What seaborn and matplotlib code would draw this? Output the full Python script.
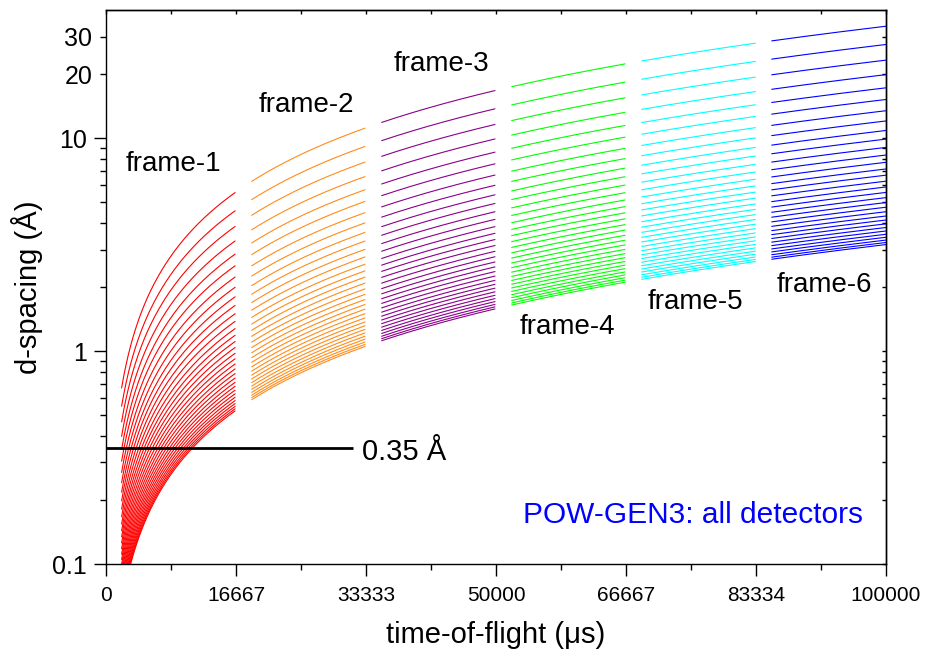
import numpy as np
import pandas as pd
import matplotlib
matplotlib.use("Agg")
import matplotlib.pyplot as plt
from matplotlib.ticker import FixedLocator, FixedFormatter
import seaborn as sns

# ---- data ----
# detector-group conversion constants (d = tof / DIFC), top curve first
difc = [2980, 3630, 4300, 5030, 5800, 6580, 7430, 8300, 9200, 10100,
        11050, 12000, 12980, 13950, 14920, 15920, 16950, 17980, 19020, 20060,
        21100, 22150, 23200, 24230, 25250, 26270, 27280, 28270, 29200, 30100,
        30900, 31600]
frame_names = ["frame-1", "frame-2", "frame-3", "frame-4", "frame-5", "frame-6"]
frame_start = [2000, 18680, 35340, 52010, 68680, 85350]      # µs
frame_end = [16550, 33200, 49870, 66540, 83250, 100000]      # µs
frame_colors = ["#FF0000", "#FF8C1A", "#8B008B", "#00FF00", "#00FFFF", "#0000FF"]
label_x = [2560, 19615, 36920, 52990, 69400, 85990]
label_y = [6.98, 13.3, 20.7, 1.207, 1.569, 1.89]

xtick_pos = [0, 16667, 33333, 50000, 66667, 83334, 100000]
xtick_labels = ["0", "16667", "33333", "50000", "66667", "83334", "100000"]
xminor_pos = [8333, 25000, 41667, 58333, 75000, 91667]
ytick_pos = [0.1, 1, 10]
ytick_labels = ["0.1", "1", "10"]
yminor_pos = [0.2, 0.3, 0.4, 0.5, 0.6, 0.7, 0.8, 0.9,
              2, 3, 4, 5, 6, 7, 8, 9, 20, 30]
yminor_labels = ["", "", "", "", "", "", "", "",
                 "", "", "", "", "", "", "", "", "20", "30"]

cut_d = 0.35
cut_x = [0, 31700]
cut_label = "0.35 Å"
cut_label_pos = (32820, 0.307)
title_text = "POW-GEN3: all detectors"
title_pos = (53460, 0.155)

# ---- long-form table of curves ----
parts = []
for name, t0, t1 in zip(frame_names, frame_start, frame_end):
    t = np.linspace(t0, t1, 150)
    for j, c in enumerate(difc):
        parts.append(pd.DataFrame({"tof": t, "d": t / c, "frame": name, "det": j}))
df = pd.concat(parts, ignore_index=True)

sns.set_theme(style="ticks")
plt.rcParams["font.family"] = ["Liberation Sans", "DejaVu Sans"]
plt.rcParams["axes.edgecolor"] = "black"
plt.rcParams["axes.linewidth"] = 1.0

fig, ax = plt.subplots(figsize=(9.25, 6.52), dpi=100)
fig.subplots_adjust(left=106 / 925, right=886 / 925,
                    bottom=(652 - 564) / 652, top=(652 - 10) / 652)
ax.set_yscale("log")

sns.lineplot(data=df, x="tof", y="d", hue="frame", hue_order=frame_names,
             units="det", estimator=None, sort=False,
             palette=frame_colors, legend=False, lw=0.8, ax=ax)

ax.plot(cut_x, [cut_d, cut_d], color="black", lw=2.0, solid_capstyle="butt")

ax.set_xlim(0, 100000)
ax.set_ylim(0.1, 40)

ax.xaxis.set_major_locator(FixedLocator(xtick_pos))
ax.xaxis.set_major_formatter(FixedFormatter(xtick_labels))
ax.xaxis.set_minor_locator(FixedLocator(xminor_pos))
ax.yaxis.set_major_locator(FixedLocator(ytick_pos))
ax.yaxis.set_major_formatter(FixedFormatter(ytick_labels))
ax.yaxis.set_minor_locator(FixedLocator(yminor_pos))
ax.yaxis.set_minor_formatter(FixedFormatter(yminor_labels))

ax.tick_params(axis="both", which="major", direction="out", length=8.5,
               width=1.0, color="black", labelcolor="black")
ax.tick_params(axis="both", which="minor", direction="out", length=4.3,
               width=1.0, color="black", labelcolor="black")
ax.tick_params(axis="x", which="major", labelsize=15, pad=7)
ax.tick_params(axis="y", which="both", labelsize=18, pad=5.5)

# small inward ticks on top and right
sec_x = ax.secondary_xaxis("top")
sec_x.xaxis.set_major_locator(FixedLocator(xtick_pos))
sec_x.xaxis.set_minor_locator(FixedLocator(xminor_pos))
sec_x.tick_params(which="both", direction="in", length=3, width=1.0,
                  labeltop=False, color="black")
sec_y = ax.secondary_yaxis("right")
sec_y.yaxis.set_major_locator(FixedLocator(ytick_pos))
sec_y.yaxis.set_minor_locator(FixedLocator(yminor_pos))
sec_y.tick_params(which="both", direction="in", length=3, width=1.0,
                  labelright=False, color="black")
for s in ax.spines.values():
    s.set_color("black")
    s.set_linewidth(1.0)

ax.set_xlabel("time-of-flight (μs)", fontsize=21, labelpad=12, color="black")
ax.set_ylabel("d-spacing (Å)", fontsize=21, labelpad=6, color="black")

for name, x, y in zip(frame_names, label_x, label_y):
    ax.text(x, y, name, fontsize=20, ha="left", va="baseline", color="black")
ax.text(cut_label_pos[0], cut_label_pos[1], cut_label, fontsize=21,
        ha="left", va="baseline", color="black")
ax.text(title_pos[0], title_pos[1], title_text, fontsize=21.5,
        ha="left", va="baseline", color="#0000FF")

fig.savefig("out.png", dpi=100)
